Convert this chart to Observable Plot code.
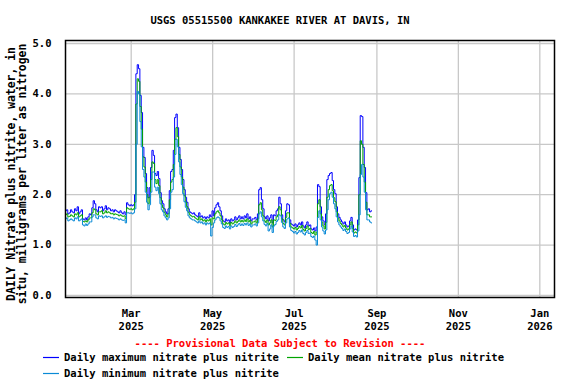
<!DOCTYPE html>
<html>
<head>
<meta charset="utf-8">
<script src="https://cdn.jsdelivr.net/npm/d3@7"></script>
<script src="https://cdn.jsdelivr.net/npm/@observablehq/plot@0.6"></script>
<style>
  html, body { margin: 0; padding: 0; background: #fff; }
  #wrap { position: relative; width: 576px; height: 384px; overflow: hidden; font-family: "DejaVu Sans Mono", monospace; font-weight: bold; font-size: 10.5px; color: #000; }
  .abs { position: absolute; white-space: pre; line-height: 1; }
  svg { display: block; }
</style>
</head>
<body>
<div id="wrap"></div>
<script>
// ---- data ----
const titleText = "USGS 05515500 KANKAKEE RIVER AT DAVIS, IN";
const yLabelLines = ["DAILY Nitrate plus nitrite, water, in", "situ, milligrams per liter as nitrogen"];
const provisionalText = "---- Provisional Data Subject to Revision ----";
const seriesNames = ["Daily maximum nitrate plus nitrite", "Daily mean nitrate plus nitrite", "Daily minimum nitrate plus nitrite"];
const seriesColors = ["#0000ff", "#00a400", "#0a8ad6"];

const monthStarts = ["2025-01-11", "2025-02-01", "2025-03-01", "2025-04-01", "2025-05-01", "2025-06-01", "2025-07-01", "2025-08-01"];

const dailyMax = [
  [1.68,1.70,1.62,1.64,1.70,1.66,1.64,1.72,1.68,1.76,1.62,1.66,1.70,1.52,1.50,1.54,1.50,1.56,1.62,1.60,1.74],
  [1.88,1.82,1.70,1.66,1.76,1.74,1.76,1.68,1.72,1.78,1.70,1.74,1.72,1.68,1.70,1.66,1.70,1.68,1.66,1.64,1.68,1.64,1.62,1.66,1.60,1.84,1.80,1.78],
  [1.80,1.78,1.80,2.00,4.40,4.58,4.50,3.97,3.63,2.94,2.74,2.42,2.14,1.94,2.14,2.54,2.88,2.78,2.42,2.38,2.46,2.32,2.04,1.88,1.82,1.72,1.66,1.62,1.72,2.08,2.46],
  [2.50,2.88,3.53,3.60,3.33,2.94,2.70,2.50,2.30,2.10,1.95,1.85,1.72,1.66,1.64,1.62,1.64,1.60,1.58,1.56,1.64,1.56,1.58,1.54,1.56,1.52,1.56,1.54,1.60,1.56],
  [1.68,1.58,1.74,1.80,1.84,1.76,1.68,1.58,1.48,1.46,1.52,1.48,1.50,1.44,1.52,1.48,1.50,1.56,1.50,1.54,1.58,1.52,1.56,1.52,1.58,1.54,1.62,1.52,1.56,1.48,1.52],
  [1.52,1.55,1.50,1.62,2.10,2.14,1.90,1.72,1.56,1.52,1.58,1.48,1.54,1.60,1.44,1.60,1.58,1.68,1.72,1.95,1.82,1.60,1.50,1.46,1.68,1.82,1.80,1.50,1.42,1.40],
  [1.38,1.42,1.36,1.40,1.44,1.40,1.46,1.38,1.34,1.40,1.46,1.38,1.40,1.32,1.30,1.34,1.28,1.36,2.20,2.16,1.76,1.56,1.48,1.40,1.62,2.30,2.38,2.42,2.44,2.28,2.10],
  [2.02,1.76,1.62,1.55,1.50,1.46,1.42,1.46,1.40,1.36,1.38,1.48,1.55,1.40,1.30,1.32,1.30,1.50,2.34,3.57,3.55,2.94,2.54,2.04,1.70,1.72,1.66,1.68]
];
const dailyMean = [
  [1.60,1.62,1.56,1.57,1.60,1.58,1.56,1.62,1.60,1.64,1.56,1.58,1.60,1.47,1.46,1.48,1.46,1.50,1.54,1.54,1.64],
  [1.72,1.70,1.62,1.60,1.66,1.66,1.68,1.62,1.64,1.68,1.64,1.66,1.64,1.62,1.63,1.60,1.62,1.61,1.60,1.58,1.60,1.58,1.57,1.58,1.52,1.74,1.72,1.71],
  [1.72,1.70,1.72,1.85,3.80,4.30,4.25,3.75,3.30,2.75,2.55,2.25,2.00,1.82,1.95,2.30,2.65,2.62,2.30,2.22,2.30,2.18,1.94,1.80,1.74,1.65,1.60,1.56,1.62,1.90,2.25],
  [2.30,2.60,3.10,3.33,3.15,2.80,2.55,2.35,2.15,1.98,1.85,1.76,1.65,1.60,1.58,1.56,1.57,1.54,1.52,1.50,1.56,1.50,1.52,1.48,1.50,1.46,1.50,1.48,1.52,1.40],
  [1.54,1.52,1.62,1.66,1.68,1.64,1.58,1.50,1.42,1.40,1.45,1.42,1.44,1.39,1.45,1.42,1.44,1.48,1.44,1.47,1.50,1.46,1.49,1.46,1.50,1.47,1.52,1.46,1.49,1.42,1.46],
  [1.46,1.48,1.44,1.52,1.80,1.84,1.70,1.58,1.48,1.45,1.50,1.40,1.44,1.50,1.36,1.50,1.49,1.56,1.60,1.76,1.70,1.52,1.43,1.40,1.55,1.64,1.64,1.43,1.36,1.34],
  [1.32,1.35,1.30,1.33,1.37,1.34,1.39,1.31,1.28,1.33,1.38,1.31,1.33,1.25,1.23,1.27,1.20,1.26,1.82,1.90,1.62,1.46,1.38,1.32,1.45,1.95,2.10,2.18,2.20,2.08,1.94],
  [1.86,1.66,1.54,1.48,1.43,1.40,1.36,1.39,1.34,1.30,1.32,1.40,1.46,1.33,1.24,1.26,1.24,1.40,2.00,3.07,3.00,2.60,2.25,1.85,1.60,1.60,1.56,1.56]
];
const dailyMin = [
  [1.52,1.54,1.48,1.50,1.52,1.50,1.48,1.54,1.52,1.56,1.48,1.50,1.52,1.40,1.38,1.42,1.39,1.42,1.46,1.46,1.56],
  [1.60,1.60,1.54,1.52,1.58,1.57,1.58,1.54,1.56,1.58,1.55,1.57,1.56,1.54,1.55,1.52,1.54,1.53,1.52,1.50,1.52,1.50,1.49,1.50,1.44,1.64,1.64,1.63],
  [1.64,1.62,1.64,1.72,3.00,4.05,4.00,3.45,2.95,2.50,2.35,2.05,1.85,1.70,1.80,2.05,2.45,2.45,2.15,2.08,2.15,2.02,1.82,1.70,1.66,1.58,1.54,1.50,1.54,1.72,2.05],
  [2.10,2.35,2.80,3.10,2.95,2.65,2.40,2.20,2.02,1.86,1.75,1.68,1.58,1.54,1.52,1.50,1.50,1.48,1.46,1.44,1.48,1.44,1.46,1.42,1.44,1.40,1.44,1.42,1.44,1.18],
  [1.35,1.44,1.50,1.54,1.56,1.54,1.48,1.42,1.35,1.33,1.38,1.35,1.37,1.32,1.38,1.35,1.37,1.41,1.37,1.40,1.43,1.39,1.42,1.39,1.43,1.40,1.44,1.39,1.42,1.36,1.40],
  [1.40,1.42,1.38,1.44,1.62,1.66,1.56,1.48,1.41,1.38,1.43,1.28,1.32,1.40,1.25,1.38,1.41,1.47,1.50,1.60,1.58,1.45,1.36,1.33,1.44,1.52,1.54,1.36,1.29,1.27],
  [1.24,1.27,1.22,1.25,1.29,1.26,1.30,1.23,1.20,1.25,1.29,1.23,1.24,1.17,1.15,1.18,1.10,1.00,1.55,1.68,1.50,1.36,1.28,1.22,1.30,1.70,1.90,2.02,2.05,1.95,1.82],
  [1.72,1.56,1.46,1.40,1.36,1.33,1.29,1.32,1.27,1.23,1.25,1.32,1.38,1.26,1.17,1.19,1.16,1.28,1.60,2.40,2.60,2.35,2.05,1.70,1.50,1.50,1.46,1.44]
];

const xTickDates = ["2025-03-01", "2025-05-01", "2025-07-01", "2025-09-01", "2025-11-01", "2026-01-01"];
const xTickLabels = ["Mar\n2025", "May\n2025", "Jul\n2025", "Sep\n2025", "Nov\n2025", "Jan\n2026"];
const yTicks = [0, 1, 2, 3, 4, 5];
const yTickLabels = ["0.0", "1.0", "2.0", "3.0", "4.0", "5.0"];

// ---- build rows ----
function rowsFor(series) {
  const out = [];
  series.forEach((month, m) => {
    const start = new Date(monthStarts[m] + "T00:00:00Z");
    month.forEach((v, j) => {
      out.push({date: new Date(start.getTime() + j * 86400000), value: v});
    });
  });
  return out;
}
const maxRows = rowsFor(dailyMax);
const meanRows = rowsFor(dailyMean);
const minRows = rowsFor(dailyMin);
const tickDateObjs = xTickDates.map(d => new Date(d + "T00:00:00Z"));
const labelFor = new Map(tickDateObjs.map((d, i) => [+d, xTickLabels[i]]));
const yLabelFor = new Map(yTicks.map((t, i) => [t, yTickLabels[i]]));

const font = "DejaVu Sans Mono";
const plot = Plot.plot({
  width: 576,
  height: 384,
  marginTop: 40,
  marginBottom: 87,
  marginLeft: 65,
  marginRight: 22,
  style: {fontFamily: font, fontSize: "10.5px", fontWeight: "bold", color: "#000", background: "#fff"},
  x: {type: "utc", domain: [new Date("2025-01-10T19:00:00Z"), new Date("2026-01-12T00:00:00Z")], label: null},
  y: {domain: [-0.04, 5.06], label: null},
  marks: [
    Plot.ruleY(yTicks, {stroke: "#c8c8c8", strokeWidth: 1.3}),
    Plot.ruleX(tickDateObjs, {stroke: "#c8c8c8", strokeWidth: 1.3}),
    Plot.line(maxRows, {x: "date", y: "value", stroke: seriesColors[0], strokeWidth: 1, curve: "step"}),
    Plot.line(meanRows, {x: "date", y: "value", stroke: seriesColors[1], strokeWidth: 1, curve: "step"}),
    Plot.line(minRows, {x: "date", y: "value", stroke: seriesColors[2], strokeWidth: 1, curve: "step"}),
    Plot.frame({stroke: "#000", strokeWidth: 1.5}),
    Plot.axisY({ticks: yTicks, tickSize: 0, tickPadding: 14, tickFormat: d => yLabelFor.get(d), fill: "#000", fontWeight: "bold", label: null}),
    Plot.axisX({ticks: tickDateObjs, tickSize: 0, tickPadding: 10, tickFormat: d => labelFor.get(+d), fill: "#000", fontWeight: "bold", lineHeight: 1.25, label: null})
  ]
});

const wrap = document.getElementById("wrap");
wrap.appendChild(plot);

function addText(txt, left, top, extra) {
  const d = document.createElement("div");
  d.className = "abs";
  d.textContent = txt;
  d.style.left = left + "px";
  d.style.top = top + "px";
  if (extra) Object.assign(d.style, extra);
  wrap.appendChild(d);
  return d;
}
// title
addText(titleText, 0, 15, {width: "560px", textAlign: "center"});
// y label, rotated two lines
const yl = document.createElement("div");
yl.className = "abs";
yl.style.left = "0px";
yl.style.top = "0px";
yl.style.width = "264px";
yl.style.textAlign = "center";
yl.style.fontSize = "11.4px";
yl.style.lineHeight = "10.5px";
yl.style.transformOrigin = "0 0";
yl.style.transform = "translate(6px, 306px) rotate(-90deg)";
yl.textContent = yLabelLines.join("\n");
wrap.appendChild(yl);
// provisional
addText(provisionalText, 0, 338, {width: "560px", textAlign: "center", color: "#ff0000"});
// legend
const ns = "http://www.w3.org/2000/svg";
const legendSvg = document.createElementNS(ns, "svg");
legendSvg.setAttribute("width", "576");
legendSvg.setAttribute("height", "384");
legendSvg.style.position = "absolute";
legendSvg.style.left = "0px";
legendSvg.style.top = "0px";
legendSvg.style.pointerEvents = "none";
wrap.appendChild(legendSvg);
function legendItem(i, x, y) {
  const ln = document.createElementNS(ns, "line");
  ln.setAttribute("x1", x);
  ln.setAttribute("x2", x + 16);
  ln.setAttribute("y1", y + 5.5);
  ln.setAttribute("y2", y + 5.5);
  ln.setAttribute("stroke", seriesColors[i]);
  ln.setAttribute("stroke-width", "1.2");
  legendSvg.appendChild(ln);
  addText(seriesNames[i], x + 21, y);
}
legendItem(0, 43, 352);
legendItem(1, 287, 352);
legendItem(2, 43, 368);
</script>
</body>
</html>
